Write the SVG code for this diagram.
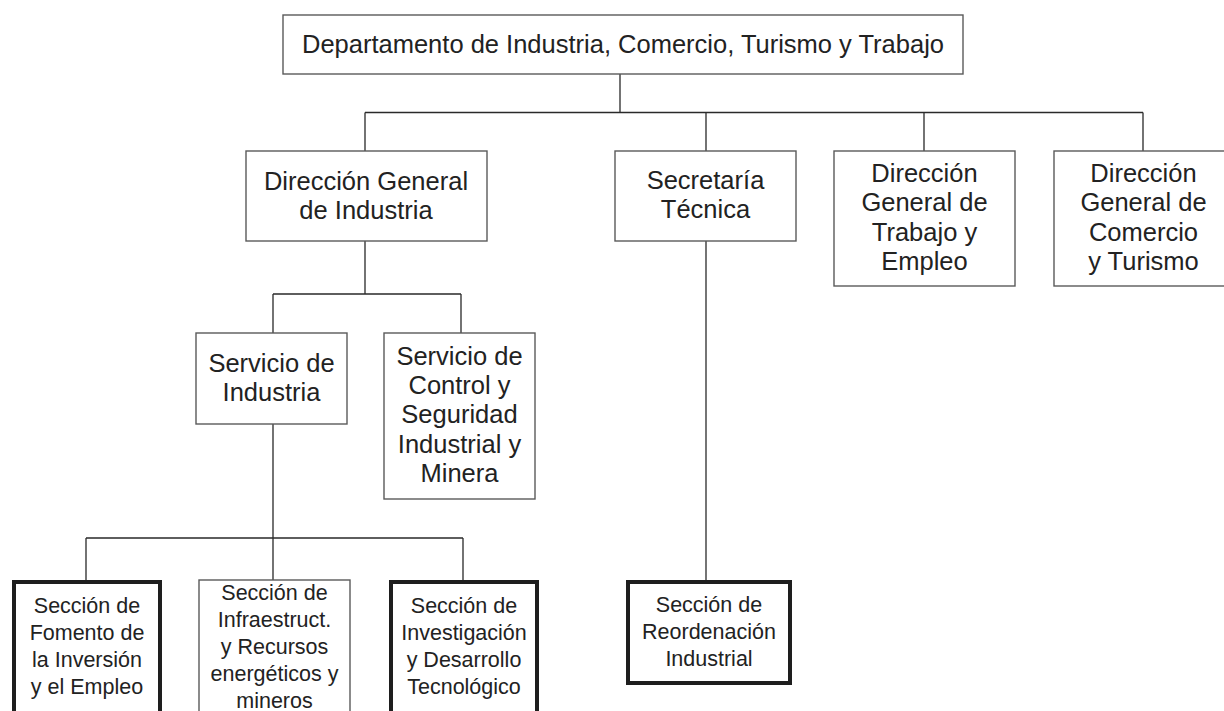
<svg xmlns="http://www.w3.org/2000/svg" width="1224" height="711" viewBox="0 0 1224 711">
<style>
.box{fill:#fff;stroke:#5a5a5a;stroke-width:1.4}
.thick{fill:#fff;stroke:#1e1e1e;stroke-width:4}
.t{font-family:"Liberation Sans",Arial,sans-serif;font-size:25.5px;fill:#222;text-anchor:middle}
.s{font-family:"Liberation Sans",Arial,sans-serif;font-size:21.5px;fill:#222;text-anchor:middle}
.c{fill:none;stroke:#2a2a2a;stroke-width:1.3}
</style>
<rect width="1224" height="711" fill="#fff"/>
<g id="connectors">
<path class="c" d="M620,74 V112.5 M365,112.5 H1143 M365,112.5 V151 M706,112.5 V151 M924,112.5 V151 M1143,112.5 V151"/>
<path class="c" d="M365,241 V294 M273,294 H461 M273,294 V333 M461,294 V333"/>
<path class="c" d="M273,424 V580 M86,538 H463 M86,538 V580 M463,538 V580"/>
<path class="c" d="M706,241 V580"/>
</g>
<g id="n-departamento">
<rect class="box" x="283" y="15" width="680" height="59"/>
<text class="t" x="623" y="53">Departamento de Industria, Comercio, Turismo y Trabajo</text>
</g>
<g id="n-dg-industria">
<rect class="box" x="246" y="151" width="241" height="90"/>
<text class="t" x="366" y="189.5">Dirección General</text>
<text class="t" x="366" y="218.9">de Industria</text>
</g>
<g id="n-secretaria">
<rect class="box" x="615" y="151" width="181" height="90"/>
<text class="t" x="705.5" y="189">Secretaría</text>
<text class="t" x="705.5" y="218.4">Técnica</text>
</g>
<g id="n-dg-trabajo">
<rect class="box" x="834" y="151" width="181" height="135"/>
<text class="t" x="924.5" y="182">Dirección</text>
<text class="t" x="924.5" y="211.4">General de</text>
<text class="t" x="924.5" y="240.8">Trabajo y</text>
<text class="t" x="924.5" y="270.2">Empleo</text>
</g>
<g id="n-dg-comercio">
<rect class="box" x="1054" y="151" width="179" height="135"/>
<text class="t" x="1143.5" y="182">Dirección</text>
<text class="t" x="1143.5" y="211.4">General de</text>
<text class="t" x="1143.5" y="240.8">Comercio</text>
<text class="t" x="1143.5" y="270.2">y Turismo</text>
</g>
<g id="n-serv-industria">
<rect class="box" x="196" y="333" width="151" height="91"/>
<text class="t" x="271.5" y="371.5">Servicio de</text>
<text class="t" x="271.5" y="401">Industria</text>
</g>
<g id="n-serv-control">
<rect class="box" x="384" y="333" width="151" height="166"/>
<text class="t" x="459.5" y="364.5">Servicio de</text>
<text class="t" x="459.5" y="393.9">Control y</text>
<text class="t" x="459.5" y="423.3">Seguridad</text>
<text class="t" x="459.5" y="452.7">Industrial y</text>
<text class="t" x="459.5" y="482.1">Minera</text>
</g>
<g id="n-fomento">
<rect class="thick" x="14" y="582" width="146" height="134"/>
<text class="s" x="87" y="613">Sección de</text>
<text class="s" x="87" y="640">Fomento de</text>
<text class="s" x="87" y="667">la Inversión</text>
<text class="s" x="87" y="694">y el Empleo</text>
</g>
<g id="n-infraestruct">
<rect class="box" x="199" y="580" width="151" height="136"/>
<text class="s" x="274.5" y="600">Sección de</text>
<text class="s" x="274.5" y="627">Infraestruct.</text>
<text class="s" x="274.5" y="654">y Recursos</text>
<text class="s" x="274.5" y="681">energéticos y</text>
<text class="s" x="274.5" y="708">mineros</text>
</g>
<g id="n-investigacion">
<rect class="thick" x="391" y="582" width="146" height="134"/>
<text class="s" x="464" y="613">Sección de</text>
<text class="s" x="464" y="640">Investigación</text>
<text class="s" x="464" y="667">y Desarrollo</text>
<text class="s" x="464" y="694">Tecnológico</text>
</g>
<g id="n-reordenacion">
<rect class="thick" x="628" y="582" width="162" height="101"/>
<text class="s" x="709" y="612">Sección de</text>
<text class="s" x="709" y="639">Reordenación</text>
<text class="s" x="709" y="666">Industrial</text>
</g>
</svg>
